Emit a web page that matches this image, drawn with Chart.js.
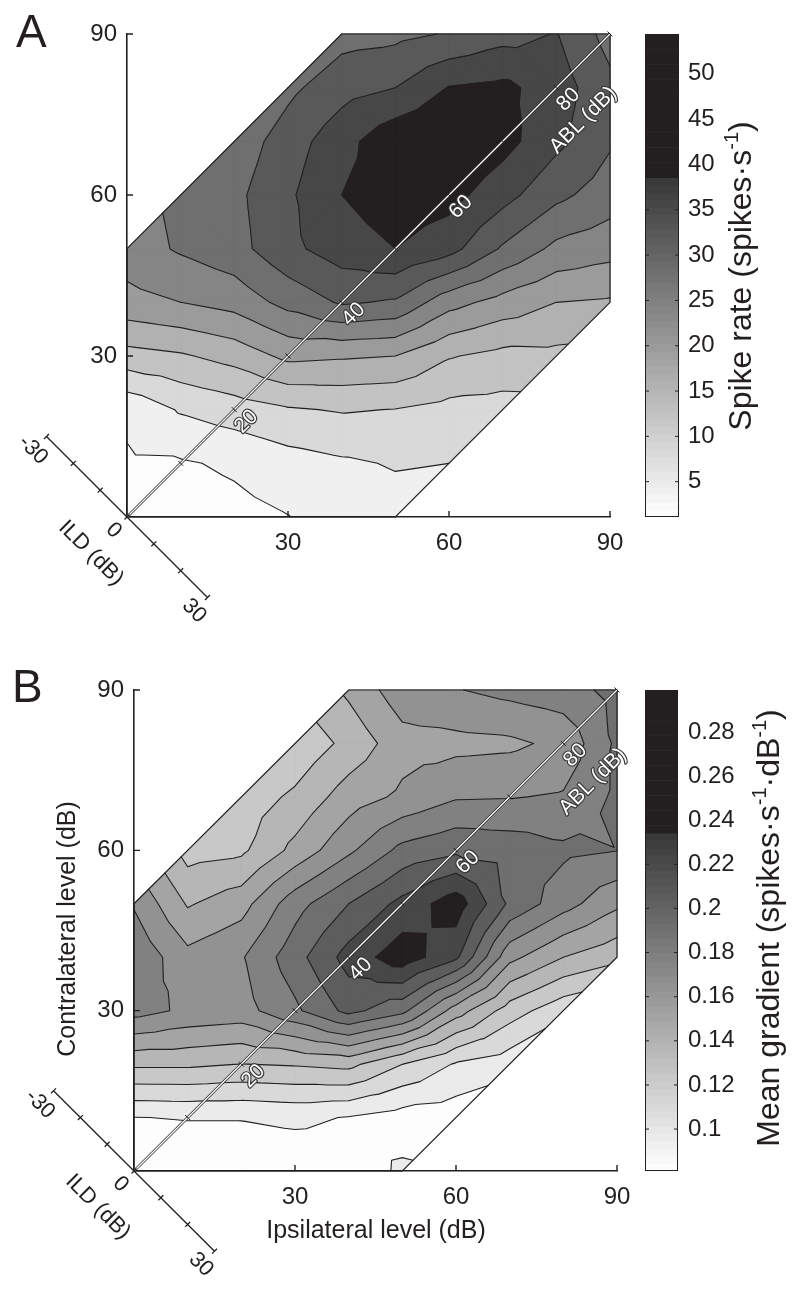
<!DOCTYPE html>
<html>
<head>
<meta charset="utf-8">
<title>Spike rate and mean gradient vs ipsi/contra level</title>
<script src="https://cdn.jsdelivr.net/npm/chart.js@4.4.1/dist/chart.umd.min.js"></script>
<style>
  html, body { margin: 0; padding: 0; background: #fff; }
  canvas { position: absolute; left: 0; }
</style>
</head>
<body>
<canvas id="panelA" width="800" height="645" style="top:0"></canvas>
<canvas id="panelB" width="800" height="646" style="top:645px"></canvas>
<script>
// grid of stimulus levels (dB); rows = contralateral level, columns = ipsilateral level
const ipsiLevels = [0, 10, 20, 30, 40, 50, 60, 70, 80, 90];
const contraLevels = [0, 10, 20, 30, 40, 50, 60, 70, 80, 90];
const ildLimit = 50;

// panel A: spike rate (spikes/s), null = outside the tested ILD range
const spikeRate = [
  [1.5, 2.0, 2.8, 3.9, 5.5, 6.3, null, null, null, null],
  [3.5, 3.6, 4.6, 6.3, 7.4, 8.3, 8.0, null, null, null],
  [4.8, 8.4, 10.0, 11.6, 12.3, 11.9, 10.8, 10.5, null, null],
  [14.5, 15.5, 17.5, 21.0, 20.5, 20.0, 16.3, 14.8, 15.0, null],
  [22.7, 24.0, 25.5, 29.3, 32.5, 31.5, 25.5, 22.5, 20.0, 19.5],
  [26.0, 28.5, 30.5, 35.0, 38.0, 40.0, 37.5, 31.5, 27.0, 25.5],
  [null, 29.0, 31.0, 35.3, 40.0, 42.5, 41.5, 37.5, 33.0, 30.0],
  [null, null, 29.5, 34.0, 38.5, 43.0, 44.5, 41.5, 37.0, 32.5],
  [null, null, null, 31.0, 34.5, 36.0, 40.2, 41.0, 38.0, 33.0],
  [null, null, null, null, 30.5, 31.0, 32.3, 34.5, 36.2, 30.5],
];
const rateContours = [4, 8, 12, 16, 20, 24, 28, 32, 36, 40];
const rateRange = [1.1, 54.4];
const rateBarTicks = [5, 10, 15, 20, 25, 30, 35, 40, 45, 50];

// panel B: mean gradient (spikes/s/dB)
const meanGradient = [
  [0.0838, 0.0838, 0.0845, 0.0852, 0.0873, 0.0971, null, null, null, null],
  [0.0947, 0.0957, 0.0957, 0.0978, 0.0943, 0.0887, 0.0866, null, null, null],
  [0.1398, 0.1398, 0.1368, 0.1384, 0.1412, 0.1232, 0.1076, 0.1006, null, null],
  [0.1846, 0.1762, 0.1734, 0.1902, 0.2112, 0.1972, 0.158, 0.13, 0.1132, null],
  [0.1902, 0.1692, 0.1776, 0.2014, 0.2266, 0.2434, 0.2238, 0.1692, 0.151, 0.1412],
  [0.1776, 0.1496, 0.1594, 0.1874, 0.207, 0.2252, 0.2434, 0.2042, 0.1846, 0.1678],
  [null, 0.1314, 0.1342, 0.1552, 0.1762, 0.1972, 0.2042, 0.2014, 0.1958, 0.1932],
  [null, null, 0.1286, 0.1398, 0.158, 0.1678, 0.1776, 0.1783, 0.1804, 0.1958],
  [null, null, null, 0.1258, 0.1412, 0.1594, 0.1608, 0.1622, 0.1685, 0.1958],
  [null, null, null, null, 0.1538, 0.1734, 0.1783, 0.1832, 0.1874, 0.1972],
];
const gradientContours = [0.095, 0.109, 0.123, 0.137, 0.151, 0.165, 0.179, 0.193, 0.207, 0.221, 0.235];
const gradientRange = [0.081, 0.299];
const gradientBarTicks = [0.1, 0.12, 0.14, 0.16, 0.18, 0.2, 0.22, 0.24, 0.26, 0.28];

const levelTicks = [30, 60, 90];
const ablTicks = [10, 20, 30, 40, 50, 60, 70, 80, 90];
const ablLabels = [20, 40, 60, 80];
const ildTicks = [-30, -20, -10, 0, 10, 20, 30];
const ildLabels = [-30, 0, 30];

const INK = '#231f20';
const FONT = "'Liberation Sans', Arial, Helvetica, sans-serif";

// 64-step grey map, saturating to black in the top third
function grayAt(t) {
  const i = Math.max(0, Math.min(63, Math.floor(t * 64)));
  const q = i / 63;
  if (q >= 0.70) return 'rgb(35,31,32)';
  const g = Math.round(253 - (q / 0.70) * 196);
  return `rgb(${g},${g},${g})`;
}

// split each grid cell into 4 triangles around its centre (3-point cells at the ILD edge stay one triangle)
function triangles(grid) {
  const out = [];
  for (let j = 0; j < contraLevels.length - 1; j++) {
    for (let i = 0; i < ipsiLevels.length - 1; i++) {
      const at = (di, dj) => {
        const v = grid[j + dj][i + di];
        return v == null ? null : [ipsiLevels[i + di], contraLevels[j + dj], v];
      };
      const quad = [at(0, 0), at(1, 0), at(1, 1), at(0, 1)];
      const ok = quad.filter(Boolean);
      if (ok.length === 4) {
        const c = [(quad[0][0] + quad[1][0]) / 2, (quad[0][1] + quad[3][1]) / 2,
          (quad[0][2] + quad[1][2] + quad[2][2] + quad[3][2]) / 4];
        for (let k = 0; k < 4; k++) out.push([c, quad[k], quad[(k + 1) % 4]]);
      } else if (ok.length === 3) {
        out.push(ok);
      }
    }
  }
  return out;
}

function clipAbove(poly, L) {
  const out = [];
  for (let k = 0; k < poly.length; k++) {
    const a = poly[k], b = poly[(k + 1) % poly.length];
    const ina = a[2] >= L, inb = b[2] >= L;
    if (ina) out.push(a);
    if (ina !== inb) {
      const f = (L - a[2]) / (b[2] - a[2]);
      out.push([a[0] + f * (b[0] - a[0]), a[1] + f * (b[1] - a[1]), L]);
    }
  }
  return out;
}

function crossing(tri, L) {
  const pts = [];
  for (let k = 0; k < 3; k++) {
    const a = tri[k], b = tri[(k + 1) % 3];
    if ((a[2] >= L) !== (b[2] >= L)) {
      const f = (L - a[2]) / (b[2] - a[2]);
      pts.push([a[0] + f * (b[0] - a[0]), a[1] + f * (b[1] - a[1])]);
    }
  }
  return pts.length === 2 ? pts : null;
}

const P = (chart, x, y) => [chart.scales.x.getPixelForValue(x), chart.scales.y.getPixelForValue(y)];

function richText(ctx, parts, size, x, y, angle) {
  ctx.save();
  ctx.translate(x, y);
  ctx.rotate(angle);
  ctx.fillStyle = INK;
  ctx.textAlign = 'left';
  ctx.textBaseline = 'alphabetic';
  const fontOf = p => `${p.sup ? Math.round(size * 0.62) : size}px ${FONT}`;
  const widths = parts.map(p => { ctx.font = fontOf(p); return ctx.measureText(p.t).width; });
  let cx = -widths.reduce((a, b) => a + b, 0) / 2;
  parts.forEach((p, k) => {
    ctx.font = fontOf(p);
    ctx.fillText(p.t, cx, p.sup ? -size * 0.42 : 0);
    cx += widths[k];
  });
  ctx.restore();
}

function plainText(ctx, text, size, x, y, angle, halo) {
  ctx.save();
  ctx.translate(x, y);
  ctx.rotate(angle);
  ctx.font = `${size}px ${FONT}`;
  ctx.textAlign = 'center';
  ctx.textBaseline = 'middle';
  if (halo) {
    ctx.lineJoin = 'round';
    ctx.lineWidth = 2.4;
    ctx.strokeStyle = '#3a3a3a';
    ctx.strokeText(text, 0, 0);
    ctx.fillStyle = '#fff';
  } else {
    ctx.fillStyle = INK;
  }
  ctx.fillText(text, 0, 0);
  ctx.restore();
}

function decorate(chart, panel) {
  const ctx = chart.ctx;
  const area = chart.chartArea;
  const top = ipsiLevels[ipsiLevels.length - 1];
  ctx.save();

  // outline of the tested region
  const edge = [[0, 0], [ildLimit, 0], [top, top - ildLimit], [top, top], [top - ildLimit, top], [0, ildLimit]];
  ctx.beginPath();
  edge.forEach((q, k) => { const [x, y] = P(chart, q[0], q[1]); k ? ctx.lineTo(x, y) : ctx.moveTo(x, y); });
  ctx.closePath();
  ctx.strokeStyle = INK;
  ctx.lineWidth = 1.2;
  ctx.stroke();

  // inward axis ticks
  ctx.lineWidth = 1.4;
  ctx.beginPath();
  levelTicks.forEach(v => {
    const yy = chart.scales.y.getPixelForValue(v);
    ctx.moveTo(area.left, yy); ctx.lineTo(area.left + 6, yy);
    const xx = chart.scales.x.getPixelForValue(v);
    ctx.moveTo(xx, area.bottom); ctx.lineTo(xx, area.bottom - 6);
  });
  ctx.stroke();

  // pixel unit vectors: u along ABL diagonal (up-right), n perpendicular (down-right)
  const o = P(chart, 0, 0), e = P(chart, top, top);
  const len = Math.hypot(e[0] - o[0], e[1] - o[1]);
  const u = [(e[0] - o[0]) / len, (e[1] - o[1]) / len];
  const n = [-u[1], u[0]];
  const angU = Math.atan2(u[1], u[0]), angN = Math.atan2(n[1], n[0]);

  // ABL diagonal
  ctx.lineCap = 'butt';
  ctx.beginPath(); ctx.moveTo(o[0], o[1]); ctx.lineTo(e[0], e[1]);
  ctx.strokeStyle = INK; ctx.lineWidth = 2.6; ctx.stroke();
  ctx.strokeStyle = '#fff'; ctx.lineWidth = 1.3; ctx.stroke();
  ctx.beginPath();
  ablTicks.forEach(a => {
    const [x, y] = P(chart, a, a);
    ctx.moveTo(x - 3.5 * n[0], y - 3.5 * n[1]); ctx.lineTo(x + 3.5 * n[0], y + 3.5 * n[1]);
  });
  ctx.strokeStyle = INK; ctx.lineWidth = 1; ctx.stroke();
  ablLabels.forEach(a => {
    const [x, y] = P(chart, a, a);
    plainText(ctx, String(a), 21, x + 17 * n[0], y + 17 * n[1], angU, true);
  });
  {
    const [x, y] = P(chart, 80, 80);
    const [dp, da] = panel.ablTitle;
    plainText(ctx, 'ABL (dB)', 21, x + dp * n[0] + da * u[0], y + dp * n[1] + da * u[1], angU, true);
  }

  // ILD axis through the origin
  const ildPt = d => P(chart, d / 2, -d / 2);
  const a0 = ildPt(ildTicks[0]), a1 = ildPt(ildTicks[ildTicks.length - 1]);
  ctx.beginPath(); ctx.moveTo(a0[0], a0[1]); ctx.lineTo(a1[0], a1[1]);
  ildTicks.forEach(d => {
    const [x, y] = ildPt(d);
    ctx.moveTo(x - 3.5 * u[0], y - 3.5 * u[1]); ctx.lineTo(x + 3.5 * u[0], y + 3.5 * u[1]);
  });
  ctx.strokeStyle = INK; ctx.lineWidth = 1.3; ctx.stroke();
  ildLabels.forEach(d => {
    const [x, y] = ildPt(d);
    plainText(ctx, String(d), 22, x - 19 * u[0], y - 19 * u[1], angN, false);
  });
  plainText(ctx, 'ILD (dB)', 22, o[0] - 51 * u[0], o[1] - 51 * u[1], angN, false);

  // colour bar
  const cb = chart.scales.cb;
  const [lo, hi] = panel.range;
  const [bx0, bx1] = panel.bar;
  for (let i = 0; i < 64; i++) {
    const y0 = cb.getPixelForValue(lo + (i / 64) * (hi - lo));
    const y1 = cb.getPixelForValue(lo + ((i + 1) / 64) * (hi - lo));
    ctx.fillStyle = grayAt((i + 0.5) / 64);
    ctx.fillRect(bx0, y1, bx1 - bx0, y0 - y1 + 0.6);
  }
  ctx.beginPath();
  panel.barTicks.forEach(v => {
    const yy = cb.getPixelForValue(v);
    ctx.moveTo(bx0, yy); ctx.lineTo(bx0 + 4, yy);
    ctx.moveTo(bx1 - 4, yy); ctx.lineTo(bx1, yy);
  });
  ctx.strokeStyle = INK; ctx.lineWidth = 1; ctx.stroke();
  ctx.strokeRect(bx0 + 0.5, cb.top + 0.5, bx1 - bx0 - 1, cb.bottom - cb.top - 1);
  richText(ctx, panel.barTitle, 32, panel.barTitlePos[0], panel.barTitlePos[1], -Math.PI / 2);

  // axis titles (panel B only)
  if (panel.axisTitles) {
    const t = panel.axisTitles;
    richText(ctx, [{ t: 'Contralateral level (dB)' }], 25, t.y[0], t.y[1], -Math.PI / 2);
    richText(ctx, [{ t: 'Ipsilateral level (dB)' }], 25, t.x[0], t.x[1], 0);
  }

  // panel letter
  ctx.fillStyle = INK;
  ctx.font = `46px ${FONT}`;
  ctx.textAlign = 'left';
  ctx.textBaseline = 'alphabetic';
  ctx.fillText(panel.letter, panel.letterPos[0], panel.letterPos[1]);
  ctx.restore();
}

function contourPlugin(panel) {
  const tris = triangles(panel.grid);
  const [lo, hi] = panel.range;
  const shade = v => grayAt((v - lo) / (hi - lo));
  return {
    id: 'contour' + panel.letter,
    beforeDatasetsDraw(chart) {
      const ctx = chart.ctx;
      const addPoly = poly => {
        poly.forEach((q, k) => { const [x, y] = P(chart, q[0], q[1]); k ? ctx.lineTo(x, y) : ctx.moveTo(x, y); });
        ctx.closePath();
      };
      ctx.save();
      ctx.lineJoin = 'round';
      const layer = (L, color) => {
        ctx.beginPath();
        tris.forEach(t => { const p = L == null ? t : clipAbove(t, L); if (p.length >= 3) addPoly(p); });
        ctx.fillStyle = color; ctx.fill();
        ctx.strokeStyle = color; ctx.lineWidth = 0.6; ctx.stroke();
      };
      layer(null, shade(lo));
      panel.contours.forEach(L => layer(L, shade(L)));
      ctx.strokeStyle = INK;
      ctx.lineWidth = 1.1;
      ctx.lineCap = 'round';
      panel.contours.forEach(L => {
        ctx.beginPath();
        tris.forEach(t => {
          const s = crossing(t, L);
          if (!s) return;
          const a = P(chart, s[0][0], s[0][1]), b = P(chart, s[1][0], s[1][1]);
          ctx.moveTo(a[0], a[1]); ctx.lineTo(b[0], b[1]);
        });
        ctx.stroke();
      });
      ctx.restore();
    },
    afterDraw(chart) { decorate(chart, panel); },
  };
}

// fixed box sizes so the plot area lands where the figure has it
function noOverhang(s) {
  s.paddingTop = 0; s.paddingBottom = 0; s.paddingLeft = 0; s.paddingRight = 0;
}

function levelAxis(position, size, pad) {
  return {
    type: 'linear', position, min: 0, max: 90,
    afterBuildTicks: s => { s.ticks = levelTicks.map(v => ({ value: v })); },
    afterFit: s => {
      if (position === 'bottom') s.height = size; else s.width = size;
      noOverhang(s);
    },
    grid: { display: false, drawTicks: false },
    border: { display: true, color: INK, width: 1.6, z: 1 },
    ticks: { color: INK, font: { family: FONT, size: 24 }, padding: pad, maxRotation: 0, autoSkip: false },
  };
}

function makePanel(panel) {
  return new Chart(document.getElementById(panel.canvas), {
    type: 'scatter',
    data: { datasets: [] },
    options: {
      responsive: false,
      animation: false,
      devicePixelRatio: 1,
      layout: { padding: panel.padding },
      plugins: { legend: { display: false }, tooltip: { enabled: false } },
      scales: {
        x: levelAxis('bottom', 40, 12),
        y: levelAxis('left', 60, 10),
        cb: {
          type: 'linear', position: 'right', min: panel.range[0], max: panel.range[1],
          afterBuildTicks: s => { s.ticks = panel.barTicks.map(v => ({ value: v })); },
          afterFit: s => { s.width = 140; noOverhang(s); },
          grid: { display: false, drawTicks: false },
          border: { display: false },
          ticks: {
            color: INK, font: { family: FONT, size: 24 }, padding: panel.barLabelPad, autoSkip: false,
            callback: v => String(Number(v.toFixed(2))),
          },
        },
      },
    },
    plugins: [contourPlugin(panel)],
  });
}

makePanel({
  canvas: 'panelA', letter: 'A', letterPos: [16, 47],
  grid: spikeRate, contours: rateContours, range: rateRange, barTicks: rateBarTicks,
  padding: { left: 67, top: 34, right: 50, bottom: 88 },
  bar: [645, 679], barLabelPad: 78,
  barTitle: [{ t: 'Spike rate (spikes\u00b7s' }, { t: '-1', sup: true }, { t: ')' }],
  barTitlePos: [751, 276],
  ablTitle: [42, -4],
});

makePanel({
  canvas: 'panelB', letter: 'B', letterPos: [12, 57],
  grid: meanGradient, contours: gradientContours, range: gradientRange, barTicks: gradientBarTicks,
  padding: { left: 74, top: 45, right: 43, bottom: 80 },
  bar: [645, 678], barLabelPad: 71,
  barTitle: [{ t: 'Mean gradient (spikes\u00b7s' }, { t: '-1', sup: true }, { t: '\u00b7dB' }, { t: '-1', sup: true }, { t: ')' }],
  barTitlePos: [779, 283],
  ablTitle: [48, -6],
  axisTitles: { y: [75, 284], x: [376, 593] },
});
</script>
</body>
</html>
